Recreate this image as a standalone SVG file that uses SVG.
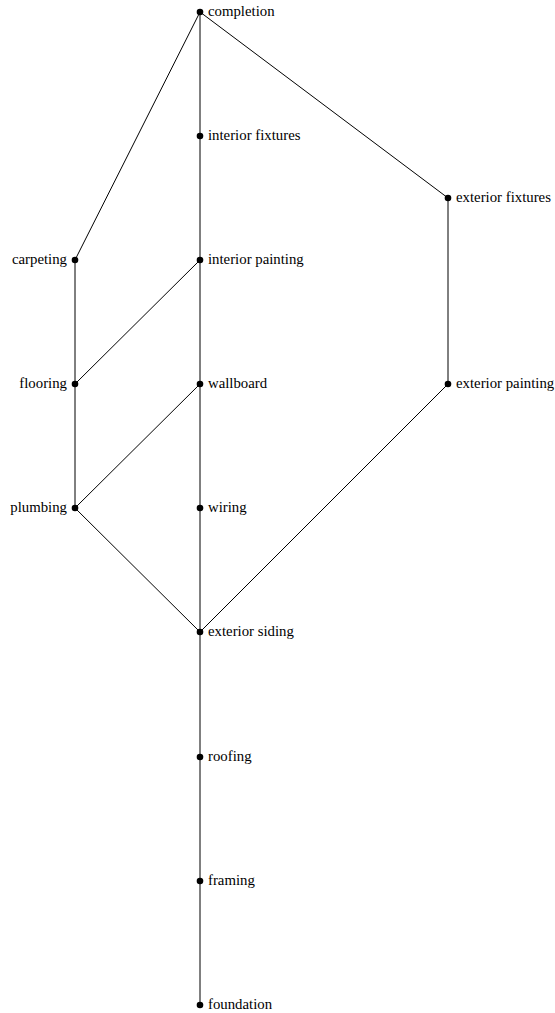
<svg xmlns="http://www.w3.org/2000/svg" width="555" height="1013" viewBox="0 0 555 1013">
<style>
.e{stroke:#000;stroke-width:1;fill:none}
.d{fill:#000}
text{font-family:"Liberation Serif","DejaVu Serif",serif;font-size:14.8px;fill:#000;dominant-baseline:central}
.r{text-anchor:end}
</style>
<rect width="555" height="1013" fill="#fff"/>
<g id="connectors">
<line class="e" x1="200" y1="12" x2="200" y2="1005"/>
<line class="e" x1="200" y1="12" x2="75" y2="260"/>
<line class="e" x1="200" y1="12" x2="448" y2="198"/>
<line class="e" x1="448" y1="198" x2="448" y2="384"/>
<line class="e" x1="75" y1="260" x2="75" y2="508"/>
<line class="e" x1="75" y1="384" x2="200" y2="260"/>
<line class="e" x1="75" y1="508" x2="200" y2="384"/>
<line class="e" x1="75" y1="508" x2="200" y2="632"/>
<line class="e" x1="448" y1="384" x2="200" y2="632"/>
</g>
<g id="completion"><circle class="d" cx="200" cy="12" r="3.3"/><text x="208" y="11">completion</text></g>
<g id="interior-fixtures"><circle class="d" cx="200" cy="136" r="3.3"/><text x="208" y="135">interior fixtures</text></g>
<g id="exterior-fixtures"><circle class="d" cx="448" cy="198" r="3.3"/><text x="456" y="197">exterior fixtures</text></g>
<g id="carpeting"><circle class="d" cx="75" cy="260" r="3.3"/><text class="r" x="67" y="259">carpeting</text></g>
<g id="interior-painting"><circle class="d" cx="200" cy="260" r="3.3"/><text x="208" y="259">interior painting</text></g>
<g id="flooring"><circle class="d" cx="75" cy="384" r="3.3"/><text class="r" x="67" y="383">flooring</text></g>
<g id="wallboard"><circle class="d" cx="200" cy="384" r="3.3"/><text x="208" y="383">wallboard</text></g>
<g id="exterior-painting"><circle class="d" cx="448" cy="384" r="3.3"/><text x="456" y="383">exterior painting</text></g>
<g id="plumbing"><circle class="d" cx="75" cy="508" r="3.3"/><text class="r" x="67" y="507">plumbing</text></g>
<g id="wiring"><circle class="d" cx="200" cy="508" r="3.3"/><text x="208" y="507">wiring</text></g>
<g id="exterior-siding"><circle class="d" cx="200" cy="632" r="3.3"/><text x="208" y="631">exterior siding</text></g>
<g id="roofing"><circle class="d" cx="200" cy="757" r="3.3"/><text x="208" y="756">roofing</text></g>
<g id="framing"><circle class="d" cx="200" cy="881" r="3.3"/><text x="208" y="880">framing</text></g>
<g id="foundation"><circle class="d" cx="200" cy="1005" r="3.3"/><text x="208" y="1004">foundation</text></g>
</svg>
